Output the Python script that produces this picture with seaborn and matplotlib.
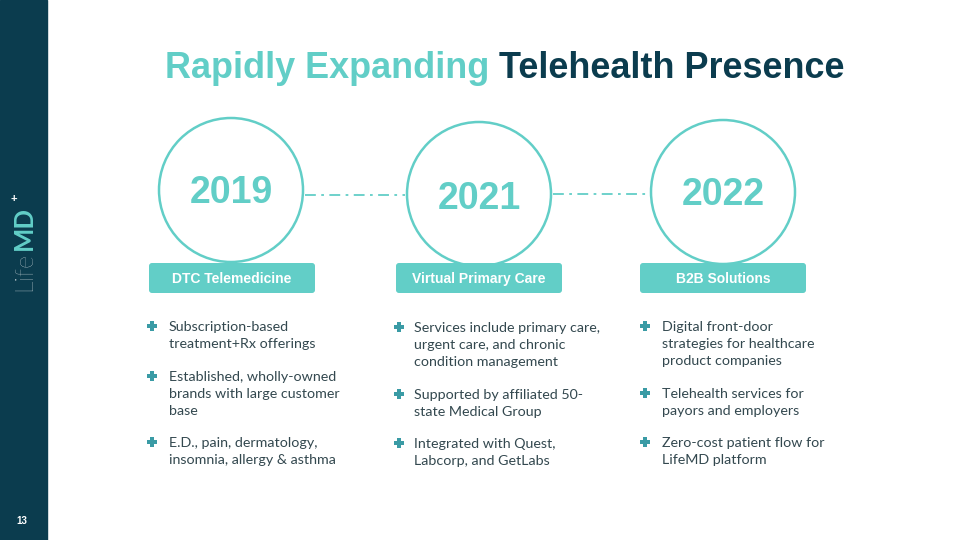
import matplotlib
matplotlib.use("Agg")
import matplotlib.pyplot as plt
import seaborn as sns
import pandas as pd
from matplotlib.patches import FancyBboxPatch, Rectangle

sns.set_theme(style="white")
plt.rcParams['font.family'] = ['Liberation Sans', 'DejaVu Sans']

# ---- data ----
years = ["2019", "2021", "2022"]
stages = ["DTC Telemedicine", "Virtual Primary Care", "B2B Solutions"]
bullets = [
    [["Subscription-based", "treatment+Rx offerings"],
     ["Established, wholly-owned", "brands with large customer", "base"],
     ["E.D., pain, dermatology,", "insomnia, allergy & asthma"]],
    [["Services include primary care,", "urgent care, and chronic", "condition management"],
     ["Supported by affiliated 50-", "state Medical Group"],
     ["Integrated with Quest,", "Labcorp, and GetLabs"]],
    [["Digital front-door", "strategies for healthcare", "product companies"],
     ["Telehealth services for", "payors and employers"],
     ["Zero-cost patient flow for", "LifeMD platform"]],
]
title_a = "Rapidly Expanding"
title_b = "Telehealth Presence"
page_no = "13"

# ---- layout / style ----
TEAL = "#62CEC7"
DARK = "#0B3C4E"
TXT = "#33484F"
circle_x = [231, 479, 723]
circle_y = [190, 194, 192]
year_y = [193, 199, 195]
radius = 72
box_x0 = [149, 396, 640]
box_w = 166
box_y0, box_h = 263, 30
plus_x = [152, 399, 645]
text_x = [169, 414, 662]
bullet_start = [[327, 377, 443], [328, 395, 444], [327, 394, 443]]
line_h = 17

fig = plt.figure(figsize=(9.6, 5.4), dpi=100)
ax = fig.add_axes([0, 0, 1, 1])
ax.set_xlim(0, 960)
ax.set_ylim(540, 0)
ax.axis("off")

# sidebar
ax.add_patch(Rectangle((0, 0), 47, 540, color=DARK, zorder=1))
ax.text(22, 521, page_no, color="white", fontsize=7, fontweight="bold",
        ha="center", va="center", zorder=3)
ax.text(24, 291, "Life", color="white", fontsize=18, rotation=90, ha="center", va="bottom",
        family=["Lato", "DejaVu Sans"], fontweight="light", zorder=3)
ax.text(24, 250, "MD", color=TEAL, fontsize=18.5, rotation=90, ha="center", va="bottom",
        family=["Lato", "DejaVu Sans"], fontweight="bold", zorder=3)
ax.text(14, 199, "+", color="white", fontsize=8, ha="center", va="center",
        fontweight="bold", zorder=3)

# title
t1 = ax.text(165, 69, title_a + " ", color=TEAL, fontsize=25.9, fontweight="bold",
             ha="left", va="center")
fig.canvas.draw()
bb = t1.get_window_extent()
x_end = ax.transData.inverted().transform((bb.x1, bb.y0))[0]
ax.text(x_end, 69, title_b, color=DARK, fontsize=25.9, fontweight="bold", ha="left", va="center")

# connectors
conn = pd.DataFrame({"x": [circle_x[0] + radius + 2, circle_x[1] - radius - 2,
                           circle_x[1] + radius + 2, circle_x[2] - radius - 2],
                     "y": [195, 195, 194, 194],
                     "seg": [0, 0, 1, 1]})
for s, g in conn.groupby("seg"):
    ax.plot(g["x"], g["y"], color=TEAL, lw=1.3, linestyle=(0, (6, 3, 1.5, 3)), zorder=2)

# circles
circ = pd.DataFrame({"x": circle_x, "y": circle_y, "year": years})
d_pt = 2 * radius * 72 / 100
sns.scatterplot(data=circ, x="x", y="y", s=d_pt ** 2, marker="o", facecolors="none",
                edgecolor=TEAL, linewidth=1.8, ax=ax, legend=False, zorder=3)
for i, y in enumerate(years):
    ax.text(circle_x[i], year_y[i], y, color=TEAL, fontsize=27, fontweight="bold",
            ha="center", va="center", zorder=4)

# label boxes
for i, lab in enumerate(stages):
    ax.add_patch(FancyBboxPatch((box_x0[i] + 3, box_y0 + 3), box_w - 6, box_h - 6,
                                boxstyle="round,pad=3", fc=TEAL, ec="none", zorder=4))
    ax.text(box_x0[i] + box_w / 2, box_y0 + box_h / 2 + 1, lab, color="white", fontsize=10,
            fontweight="bold", ha="center", va="center", zorder=5)

# bullets
pts = []
for c in range(3):
    for b, lines in enumerate(bullets[c]):
        y0 = bullet_start[c][b]
        pts.append({"x": plus_x[c], "y": y0 - 1})
        for k, line in enumerate(lines):
            ax.text(text_x[c], y0 + k * line_h, line, color=TXT, fontsize=10.3,
                    family=["Lato", "DejaVu Sans"], ha="left", va="center", zorder=4)
pdf = pd.DataFrame(pts)
sns.scatterplot(data=pdf, x="x", y="y", marker="P", s=45, color="#3A9BA5", edgecolor="none",
                ax=ax, legend=False, zorder=4)

fig.savefig("out.png", dpi=100)
